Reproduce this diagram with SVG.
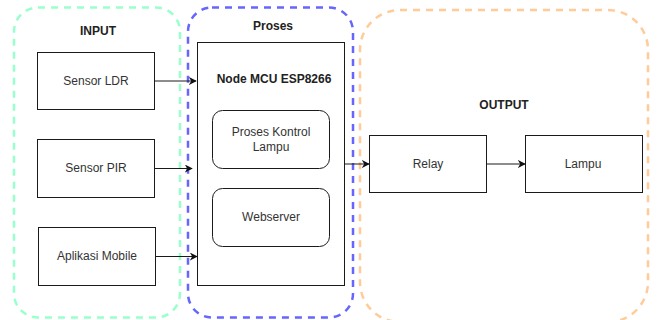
<svg xmlns="http://www.w3.org/2000/svg" width="657" height="320" viewBox="0 0 657 320">
<defs>
<style>
.grp{fill:none;stroke-width:2.5;stroke-dasharray:7 6;}
.box{fill:#fff;stroke:#1a1a1a;stroke-width:1;}
.t{font-family:"Liberation Sans",Arial,sans-serif;font-size:12px;fill:#333;text-anchor:middle;dominant-baseline:central;}
.b{font-weight:bold;fill:#222;}
.c{fill:none;stroke:#1a1a1a;stroke-width:1;}
</style>
<marker id="ah" viewBox="0 0 10 10" refX="9" refY="5" markerWidth="8" markerHeight="8" markerUnits="userSpaceOnUse" orient="auto">
<path d="M0,0 L10,5 L0,10 L3,5 Z" fill="#111"/>
</marker>
</defs>
<rect width="657" height="320" fill="#fff"/>
<g id="input-group">
<rect class="grp" x="14" y="7.5" width="166" height="310" rx="24" stroke="#99FFCC"/>
<text class="t b" x="98" y="31">INPUT</text>
</g>
<g id="proses-group">
<rect class="grp" x="188" y="7.5" width="165" height="310" rx="24" stroke="#6666FF"/>
<text class="t b" x="273" y="26">Proses</text>
</g>
<g id="output-group">
<rect class="grp" x="360" y="10" width="288" height="312" rx="40" stroke="#FFCC99"/>
<text class="t b" x="504" y="105">OUTPUT</text>
</g>
<g id="sensor-ldr">
<rect class="box" x="37.5" y="52.5" width="117" height="57"/>
<text class="t" x="96" y="81">Sensor LDR</text>
</g>
<g id="sensor-pir">
<rect class="box" x="37.5" y="139.5" width="117" height="58"/>
<text class="t" x="96" y="168">Sensor PIR</text>
</g>
<g id="aplikasi-mobile">
<rect class="box" x="38.5" y="227.5" width="117" height="58"/>
<text class="t" x="97" y="256">Aplikasi Mobile</text>
</g>
<g id="node-mcu">
<rect class="box" x="197.5" y="42.5" width="147" height="243"/>
<text class="t b" x="274" y="79">Node MCU ESP8266</text>
</g>
<g id="proses-kontrol">
<rect class="box" x="212.5" y="110.5" width="117" height="58" rx="10"/>
<text class="t" x="271" y="132">Proses Kontrol</text>
<text class="t" x="271" y="147">Lampu</text>
</g>
<g id="webserver">
<rect class="box" x="212.5" y="188.5" width="117" height="58" rx="10"/>
<text class="t" x="271" y="217">Webserver</text>
</g>
<g id="relay">
<rect class="box" x="369.5" y="135.5" width="117" height="57"/>
<text class="t" x="428" y="164">Relay</text>
</g>
<g id="lampu">
<rect class="box" x="525.5" y="135.5" width="117" height="57"/>
<text class="t" x="583" y="164">Lampu</text>
</g>
<g id="connectors">
<path class="c" d="M154.5,81 L196,81" marker-end="url(#ah)"/>
<path class="c" d="M154.5,168.5 L192,168.5" marker-end="url(#ah)"/>
<path class="c" d="M155.5,256.5 L197,256.5" marker-end="url(#ah)"/>
<path class="c" d="M344.5,164 L369,164" marker-end="url(#ah)"/>
<path class="c" d="M486.5,164 L525,164" marker-end="url(#ah)"/>
</g>
</svg>
